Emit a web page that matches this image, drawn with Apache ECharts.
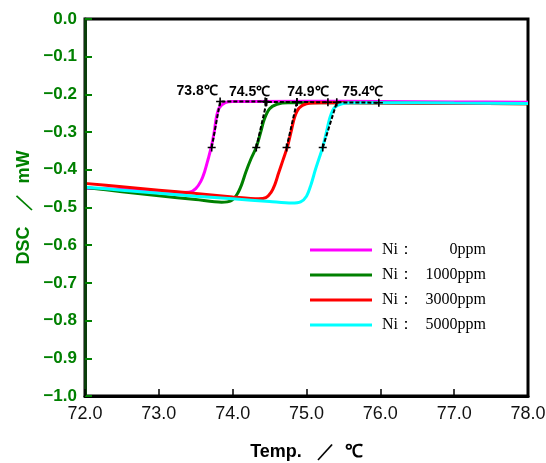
<!DOCTYPE html>
<html><head><meta charset="utf-8">
<script src="https://cdn.jsdelivr.net/npm/echarts@6/dist/echarts.min.js"></script>
<style>html,body{margin:0;padding:0;background:#fff}#c{width:546px;height:463px}</style>
</head><body><div id="c"></div>
<script>
// ---- data ----
var seriesNames = ['Ni：0ppm', 'Ni：1000ppm', 'Ni：3000ppm', 'Ni：5000ppm'];
var legendLabels = ['0ppm', '1000ppm', '3000ppm', '5000ppm'];
var ni0 = [[72.0,-0.449],[72.5,-0.452],[73.0,-0.457],[73.3,-0.460],[73.42,-0.459],[73.5,-0.450],[73.57,-0.43],[73.62,-0.405],[73.67,-0.37],[73.71,-0.34],[73.75,-0.30],[73.78,-0.26],[73.82,-0.235],[73.9,-0.222],[74.0,-0.219],[75,-0.218],[76,-0.219],[77,-0.220],[78,-0.221]];
var ni1000 = [[72.0,-0.447],[72.5,-0.458],[73.0,-0.469],[73.5,-0.479],[73.85,-0.486],[73.98,-0.482],[74.06,-0.465],[74.12,-0.44],[74.18,-0.405],[74.25,-0.37],[74.32,-0.34],[74.38,-0.30],[74.43,-0.265],[74.5,-0.238],[74.6,-0.226],[74.75,-0.222],[75,-0.222],[76,-0.223],[77,-0.224],[78,-0.225]];
var ni3000 = [[72.0,-0.436],[72.5,-0.445],[73.0,-0.454],[73.5,-0.463],[74.0,-0.472],[74.35,-0.477],[74.45,-0.474],[74.52,-0.46],[74.57,-0.44],[74.62,-0.41],[74.68,-0.375],[74.74,-0.34],[74.79,-0.30],[74.84,-0.26],[74.9,-0.236],[75.0,-0.225],[75.2,-0.222],[76,-0.223],[77,-0.224],[78,-0.225]];
var ni5000 = [[72.0,-0.446],[72.5,-0.454],[73.0,-0.462],[73.5,-0.470],[74.0,-0.477],[74.5,-0.484],[74.8,-0.488],[74.92,-0.485],[75.0,-0.47],[75.06,-0.44],[75.12,-0.40],[75.17,-0.37],[75.22,-0.34],[75.27,-0.30],[75.32,-0.26],[75.38,-0.235],[75.48,-0.225],[75.6,-0.222],[76,-0.222],[77,-0.223],[78,-0.224]];
// onset tangent constructions: [low point, onset point, baseline end]
var tan0 = [[73.716,-0.341],[73.83,-0.219],[74.44,-0.219]];
var tan1000 = [[74.32,-0.341],[74.46,-0.220],[74.87,-0.220]];
var tan3000 = [[74.73,-0.341],[74.87,-0.220],[75.29,-0.221]];
var tan5000 = [[75.22,-0.341],[75.41,-0.221],[75.98,-0.222]];
var onsetLabels = ['73.8℃', '74.5℃', '74.9℃', '75.4℃'];

// ---- chart ----
var colors = ['#ff00ff', '#008000', '#ff0000', '#00ffff'];
var curves = [ni0, ni1000, ni3000, ni5000];
var tangents = [tan0, tan1000, tan3000, tan5000];
var labelOffsets = [[-23,6],[-17,6],[11,6],[26,6]];

var series = [];
curves.forEach(function (d, i) {
  series.push({
    name: seriesNames[i], type: 'line', data: d, smooth: 0.3, showSymbol: false,
    lineStyle: { color: colors[i], width: 3 }, itemStyle: { color: colors[i] }, z: 2
  });
});
tangents.forEach(function (d, i) {
  series.push({
    type: 'line', data: d.map(function (p, j) {
      var o = { value: p };
      if (j === 1) {
        o.label = { show: true, formatter: onsetLabels[i], position: 'top',
          offset: labelOffsets[i], color: '#000', fontWeight: 'bold',
          fontSize: 14, fontFamily: 'Liberation Sans, Arial' };
      }
      return o;
    }),
    symbol: 'path://M4,0L6,0L6,4L10,4L10,6L6,6L6,10L4,10L4,6L0,6L0,4L4,4Z', symbolSize: 8,
    itemStyle: { color: '#000' },
    lineStyle: { color: '#000', width: 2, type: [4, 2] }, z: 5, silent: true
  });
});

var chart = echarts.init(document.getElementById('c'), null, { renderer: 'canvas' });
chart.setOption({
  animation: false,
  grid: { left: 85, right: 18, top: 19, bottom: 67, containLabel: false, outerBoundsMode: 'none',
    show: true, borderColor: '#000', borderWidth: 3, backgroundColor: 'transparent' },
  xAxis: {
    type: 'value', min: 72, max: 78, interval: 1, z: 10,
    name: 'Temp.   ／  ℃', nameLocation: 'middle', nameGap: 47,
    nameTextStyle: { color: '#000', fontSize: 18, fontWeight: 'bold', fontFamily: 'Liberation Sans, Arial' },
    axisLine: { show: true, onZero: false, lineStyle: { color: '#000', width: 3 } },
    axisTick: { show: true, inside: true, length: 7, lineStyle: { color: '#000', width: 1.5 } },
    axisLabel: { color: '#111', fontSize: 18, margin: 9, fontFamily: 'Liberation Sans, Arial',
      formatter: function (v) { return v.toFixed(1); } },
    splitLine: { show: false }
  },
  yAxis: {
    type: 'value', min: -1, max: 0, interval: 0.1, z: 10,
    name: 'DSC   ／  mW', nameLocation: 'middle', nameGap: 52, nameRotate: 90,
    nameTextStyle: { color: '#008000', fontSize: 18, fontWeight: 'bold', fontFamily: 'Liberation Sans, Arial' },
    axisLine: { show: true, onZero: false, lineStyle: { color: '#0a3d0a', width: 3 } },
    axisTick: { show: true, inside: true, length: 7, lineStyle: { color: '#008000', width: 2 } },
    axisLabel: { color: '#008000', fontSize: 17, fontWeight: 'bold', margin: 8, fontFamily: 'Liberation Sans, Arial',
      formatter: function (v) { return (Math.abs(v) < 1e-9 ? '0.0' : v.toFixed(1).replace('-', '−')); } },
    splitLine: { show: false }
  },
  legend: {
    show: true, orient: 'vertical', left: 305, top: 237, itemWidth: 62, itemHeight: 3, itemGap: 9,
    icon: 'rect', data: seriesNames,
    formatter: function (n) { return '{a|Ni：}{b|' + legendLabels[seriesNames.indexOf(n)] + '}'; },
    textStyle: { padding: [0, 0, 0, 5], rich: {
      a: { fontFamily: 'Liberation Serif, Times New Roman', fontSize: 16, color: '#000', width: 38 },
      b: { fontFamily: 'Liberation Serif, Times New Roman', fontSize: 16, color: '#000', width: 66, align: 'right' }
    } }
  },
  series: series
});
</script></body></html>
